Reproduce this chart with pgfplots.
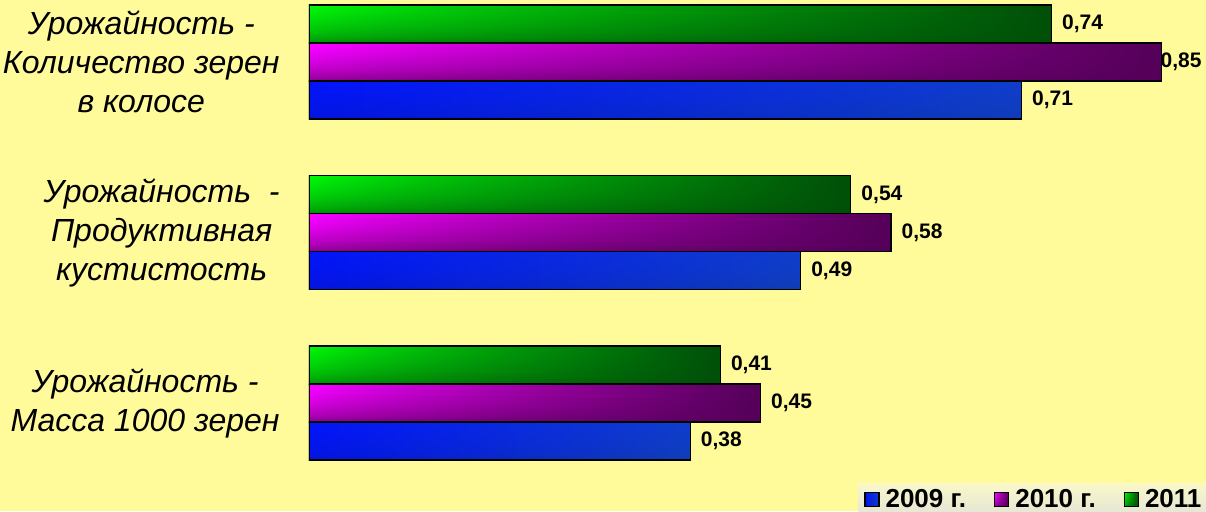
\documentclass[border=0pt]{standalone}
\usepackage{fontspec}
\setmainfont{Liberation Sans}
\usepackage{pgfplots}
\pgfplotsset{compat=1.18}
\definecolor{bg}{RGB}{255,251,155}
\definecolor{gLeft}{RGB}{0,250,0}
\definecolor{mLeft}{RGB}{255,0,255}
\pgfdeclarefunctionalshading{greenbar}{\pgfpointorigin}{\pgfpoint{100bp}{100bp}}{}{
  25 sub 50 div dup 0 lt {pop 0} if dup 1 gt {pop 1} if
  sqrt 0.5 mul 0.5 add
  exch 25 sub 50 div dup 0 lt {pop 0} if dup 1 gt {pop 1} if 0.8 exp
  dup 1 exch sub
  3 -1 roll mul
  0.98 mul exch 0.31 mul add
  0 exch 0.03
}
\pgfdeclarefunctionalshading{magentabar}{\pgfpointorigin}{\pgfpoint{100bp}{100bp}}{}{
  25 sub 50 div dup 0 lt {pop 0} if dup 1 gt {pop 1} if
  sqrt 0.55 mul 0.45 add
  exch 25 sub 50 div dup 0 lt {pop 0} if dup 1 gt {pop 1} if 0.8 exp
  dup 1 exch sub
  3 -1 roll mul
  1.0 mul exch 0.33 mul add
  dup 0 exch 1.05 mul dup 1 gt {pop 1} if
}
\pgfdeclarefunctionalshading{bluebar}{\pgfpointorigin}{\pgfpoint{100bp}{100bp}}{}{
  25 sub 50 div dup 0 lt {pop 0} if dup 1 gt {pop 1} if
  sqrt 0.15 mul 0.85 add
  exch 25 sub 50 div dup 0 lt {pop 0} if dup 1 gt {pop 1} if
  dup 0.05 mul 0.01 add
  1 index 0.16 mul 0.08 add
  3 -1 roll
  0.18 mul 0.98 exch sub
  4 -1 roll mul
}
\pgfplotsset{
  lbl/.style={
    nodes near coords={\pgfmathprintnumber[fixed,fixed zerofill,precision=2,use comma,assume math mode=true]{\pgfplotspointmeta}},
    nodes near coords style={anchor=west, inner sep=0pt, xshift=5pt, font=\bfseries\fontsize{10.5}{12}\selectfont},
    coordinate style/.condition={x>0.8}{xshift=-6pt},
  },
  sB/.style={draw=black, line width=0.6pt, shade, shading=bluebar, bar shift=-19pt, lbl,
    legend image code/.code={\draw[fill=blue!85!black,draw=black] (0pt,-3.4pt) rectangle (7pt,3.4pt);}},
  sM/.style={draw=black, line width=0.6pt, shade, shading=magentabar, bar shift=0pt, lbl,
    legend image code/.code={\draw[fill=mLeft!85!black,draw=black] (0pt,-3.4pt) rectangle (7pt,3.4pt);}},
  sG/.style={draw=black, line width=0.6pt, shade, shading=greenbar, bar shift=19pt, lbl,
    legend image code/.code={\draw[fill=gLeft!85!black,draw=black] (0pt,-3.4pt) rectangle (7pt,3.4pt);}},
}
\begin{document}
\begin{tikzpicture}
\path[use as bounding box, fill=bg] (0pt,0pt) rectangle (603pt,255.5pt);
\begin{axis}[
  at={(154.5pt,24.15pt)}, anchor=south west,
  scale only axis, width=426.5pt, height=230.175pt,
  xmin=0, xmax=0.85, ymin=-0.35, ymax=2.35,
  axis line style={draw=none},
  major tick length=0pt,
  xtick=\empty,
  ytick={0,1,2},
  yticklabels={{Урожайность -\\Масса 1000 зерен},{Урожайность \ -\\Продуктивная\\кустистость},{Урожайность -\\Количество зерен\\в колосе}},
  yticklabel style={align=center, inner sep=0pt, xshift=-14.5pt, font=\itshape\fontsize{16}{19.5}\selectfont},
  xbar, bar width=19pt,
  point meta=x,
  legend style={at={(0.6436,0)}, anchor=north west, yshift=-10pt, draw=none,
    top color={rgb,255:red,250;green,248;blue,200}, bottom color={rgb,255:red,228;green,228;blue,215},
    inner xsep=3pt, inner ysep=1pt,
    font=\bfseries\fontsize{13}{15}\selectfont,
    /tikz/every even column/.append style={column sep=12pt},
    /tikz/every odd column/.append style={column sep=1pt}},
  legend columns=3,
]
% 2009
\addplot[sB] coordinates {(0.38,0)};
% 2010
\addplot[sM] coordinates {(0.45,0)};
% 2011
\addplot[sG] coordinates {(0.41,0)};
\addplot[sB, forget plot] coordinates {(0.49,1)};
\addplot[sB, forget plot] coordinates {(0.71,2)};
\addplot[sM, forget plot] coordinates {(0.58,1)};
\addplot[sM, forget plot] coordinates {(0.85,2)};
\addplot[sG, forget plot] coordinates {(0.54,1)};
\addplot[sG, forget plot] coordinates {(0.74,2)};
\legend{2009 г.,2010 г.,2011 г.}
\end{axis}
\end{tikzpicture}
\end{document}
